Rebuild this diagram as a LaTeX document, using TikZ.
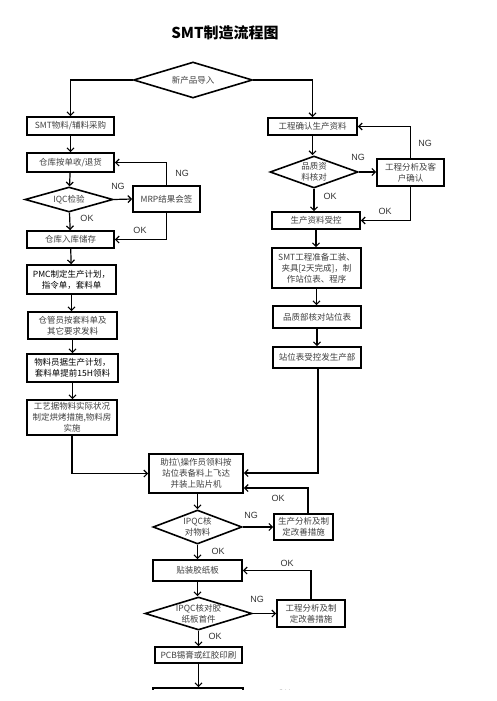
\documentclass[tikz,border=0pt]{standalone}
\usepackage{fontspec}
\setmainfont{Noto Sans CJK SC}
\newfontfamily\latf{Liberation Sans}
\usetikzlibrary{shapes.geometric,arrows.meta}
\begin{document}
\begin{tikzpicture}[x=1pt,y=-1pt,
  boxn/.style={draw=black,line width=1.6pt,fill=white,align=center,inner sep=0pt,text=black!75,font=\fontsize{8.5}{11}\selectfont},
  dian/.style={draw=black,line width=1.6pt,diamond,fill=white,inner sep=0pt},
  dtext/.style={align=center,inner sep=0pt,text=black!75,font=\fontsize{8.5}{11}\selectfont},
  conn/.style={line width=1.2pt,-{Straight Barb[length=3.5pt,width=7pt]}},
  lab/.style={font=\latf\fontsize{9}{10}\selectfont,text=black!80,inner sep=0pt}
]
\useasboundingbox (0,0) rectangle (496,701);
\begin{scope}
\clip (0,0) rectangle (496,689);
\node[font=\bfseries\fontsize{15}{17}\selectfont] (title) at (225,33) {SMT制造流程图};

% top decision
\node[dian,minimum width=119,minimum height=36] (d0) at (193,80) {};
\node[dtext] (d0t) at (d0) {新产品导入};

% left column
\node[boxn,minimum width=87,minimum height=18] (b1) at (70.5,126) {SMT物料/辅料采购};
\node[boxn,minimum width=87,minimum height=19] (b2) at (70.5,162.5) {仓库按单收/退货};
\node[dian,minimum width=88,minimum height=25] (dq) at (69,199.5) {};
\node[dtext] (dqt) at (dq) {IQC检验};
\node[boxn,minimum width=67,minimum height=26] (bm) at (166.5,199) {MRP结果会签};
\node[boxn,minimum width=87,minimum height=17] (b3) at (70.5,239.5) {仓库入库储存};
\node[boxn,minimum width=89,minimum height=29,text=black] (b4) at (71.5,279.5) {PMC制定生产计划，\\指令单，套料单};
\node[boxn,minimum width=89,minimum height=27] (b5) at (72.5,325.5) {仓管员按套料单及\\其它要求发料};
\node[boxn,minimum width=91,minimum height=28,text=black] (b6) at (72.5,368) {物料员据生产计划，\\套料单提前15H领料};
\node[boxn,minimum width=90,minimum height=35] (b7) at (72,417.5) {工艺据物料实际状况\\制定烘烤措施,物料房\\实施};

% right column
\node[boxn,minimum width=89,minimum height=17] (r1) at (312.5,126.5) {工程确认生产资料};
\node[dian,minimum width=88,minimum height=32] (rd) at (314,172) {};
\node[dtext] (rdt) at (rd) {品质资\\料核对};
\node[boxn,minimum width=67,minimum height=27] (rc) at (410.5,172.5) {工程分析及客\\户确认};
\node[boxn,minimum width=88,minimum height=17] (r2) at (316,220.5) {生产资料受控};
\node[boxn,minimum width=89,minimum height=40] (r3) at (316.5,268) {SMT工程准备工装、\\夹具[2天完成]，制\\作站位表、程序};
\node[boxn,minimum width=88,minimum height=22] (r4) at (317,317) {品质部核对站位表};
\node[boxn,minimum width=88,minimum height=21] (r5) at (317,357.5) {站位表受控发生产部};

% centre column
\node[boxn,minimum width=94,minimum height=39] (m1) at (196,473.5) {助拉\textbackslash 操作员领料按\\站位表备料上飞达\\并装上贴片机};
\node[dian,minimum width=89,minimum height=34] (md1) at (197.5,527) {};
\node[dtext] (md1t) at (md1) {IPQC核\\对物料};
\node[boxn,minimum width=59,minimum height=26] (mc1) at (303.5,527) {生产分析及制\\定改善措施};
\node[boxn,minimum width=89,minimum height=21] (m2) at (197.5,570.5) {贴装胶纸板};
\node[dian,minimum width=107,minimum height=33] (md2) at (198.5,613.5) {};
\node[dtext] (md2t) at (md2) {IPQC核对胶\\纸板首件};
\node[boxn,minimum width=68,minimum height=27] (mc2) at (311,613.5) {工程分析及制\\定改善措施};
\node[boxn,minimum width=87,minimum height=16] (m3) at (198.5,655) {PCB锡膏或红胶印刷};
\node[boxn,minimum width=90,minimum height=40] (m4) at (198,708) {};

% connectors
\draw[conn] (d0.west) -| (b1.north);
\draw[conn] (d0.east) -| (r1.north);
\draw[conn] (b1) -- (b2);
\draw[conn] (b2) -- (dq);
\draw[conn] (dq.east) -- (bm.west);
\draw[conn] (bm.north) |- (b2.east);
\draw[conn] (bm.south) |- (b3.east);
\draw[conn] (dq) -- (b3);
\draw[conn] (b3) -- (b4);
\draw[conn] (b4.south) -- (b4.south |- b5.north);
\draw[conn] (b5.south) -- (b5.south |- b6.north);
\draw[conn] (b6) -- (b6 |- b7.north);
\draw[conn] (b7.south) |- (m1.west);

\draw[conn] (r1.south) -- (r1.south |- rd.north);
\draw[conn] (rd.east) -- (rd.east -| rc.west);
\draw[conn] (rc.north) |- (r1.east);
\draw[conn] (rc.south) |- (r2.east);
\draw[conn] (rd.south) -- (rd.south |- r2.north);
\draw[conn] (r2) -- (r2 |- r3.north);
\draw[conn] (r3) -- (r3 |- r4.north);
\draw[conn] (r4) -- (r4 |- r5.north);
\coordinate (r5d) at (318,473);
\draw[conn] (r5.south -| r5d) -- (r5d) -- (r5d -| m1.east);

\draw[conn] (m1.south -| md1) -- (md1.north);
\draw[conn] (md1.east) -- (mc1.west);
\coordinate (mc1u) at (308,488);
\draw[conn] (mc1.north -| mc1u) -- (mc1u) -- (mc1u -| m1.east);
\draw[conn] (md1.south) -- (md1.south |- m2.north);
\draw[conn] (m2.south) -- (m2.south |- md2.north);
\draw[conn] (md2.east) -- (md2.east -| mc2.west);
\draw[conn] (mc2.north) |- (m2.east);
\draw[conn] (md2.south) -- (md2.south |- m3.north);
\draw[conn] (m3.south) -- (m3.south |- m4.north);

% labels
\node[lab] (l1) at (118,186) {NG};
\node[lab] (l2) at (182,173) {NG};
\node[lab] (l3) at (140,230) {OK};
\node[lab] (l4) at (87,218) {OK};
\node[lab] (l5) at (358,157) {NG};
\node[lab] (l6) at (425,143) {NG};
\node[lab] (l7) at (385,211) {OK};
\node[lab] (l8) at (330,196) {OK};
\node[lab] (l9) at (278,498) {OK};
\node[lab] (l10) at (251,515) {NG};
\node[lab] (l11) at (218,551) {OK};
\node[lab] (l12) at (287,563) {OK};
\node[lab] (l13) at (257,599) {NG};
\node[lab] (l14) at (215,636) {OK};
\node[lab] (l15) at (284,693) {OK};
\end{scope}
\end{tikzpicture}
\end{document}
